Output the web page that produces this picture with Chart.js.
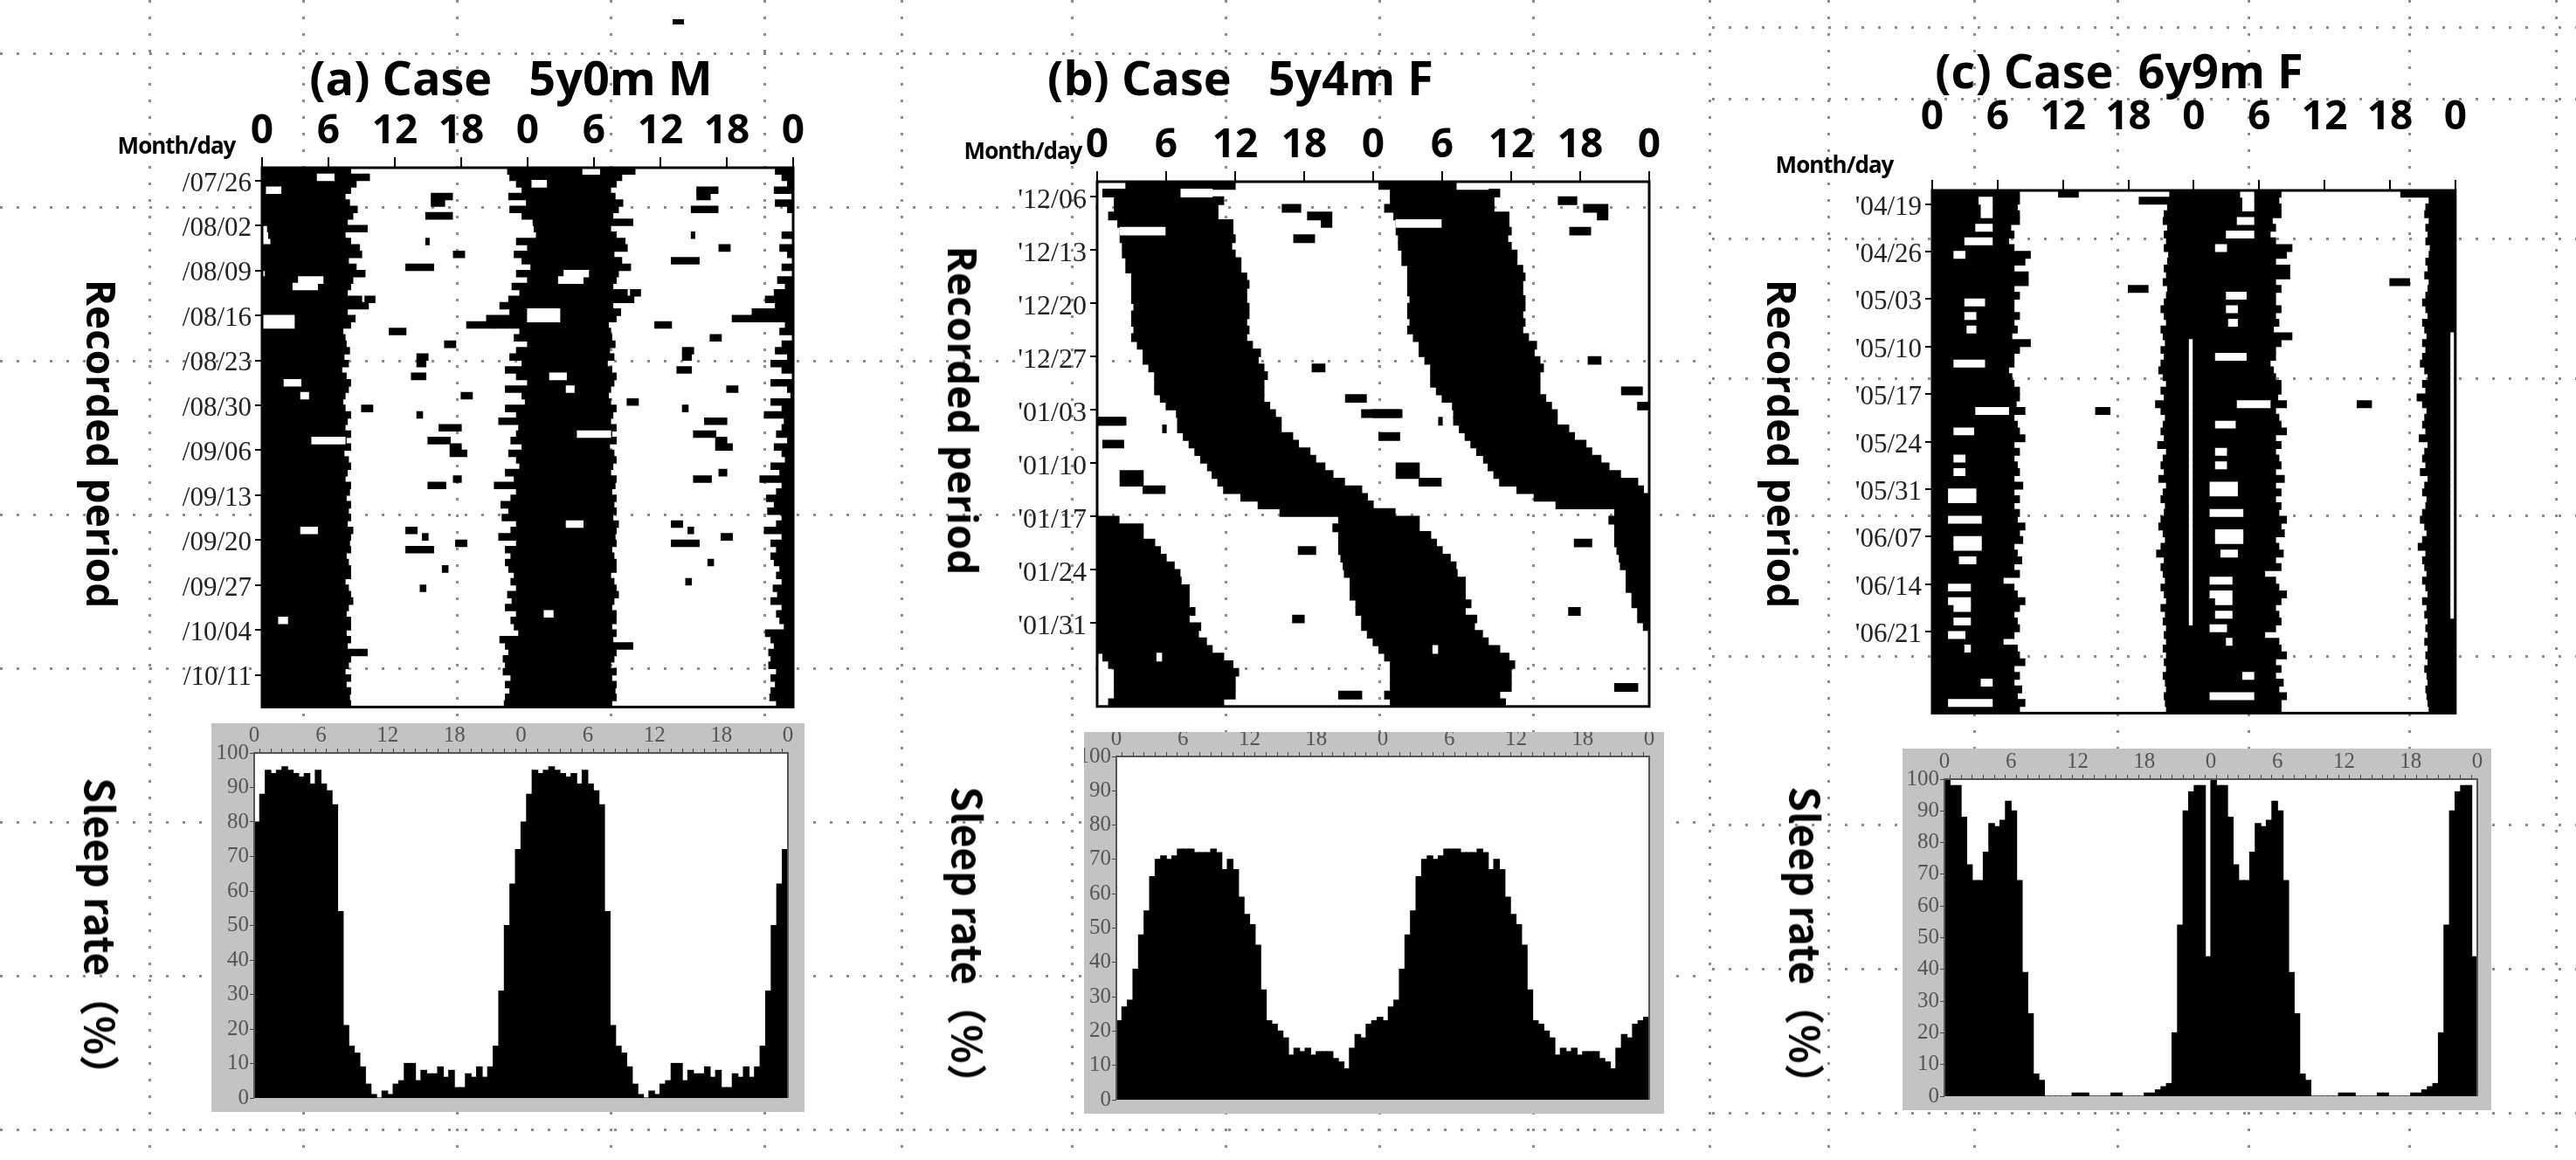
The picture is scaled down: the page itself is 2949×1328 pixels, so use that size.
<!DOCTYPE html>
<html><head><meta charset="utf-8">
<script src="https://cdn.jsdelivr.net/npm/chart.js@4"></script>
<style>
body{margin:0;width:2949px;height:1328px;background:#fff;position:relative;overflow:hidden;font-family:"Open Sans",sans-serif}
canvas{position:absolute}
.t{position:absolute;white-space:nowrap;transform:translate(-50%,-50%);font-weight:700;color:#000}
.rot{position:absolute;white-space:nowrap;transform:translate(-50%,-50%) rotate(90deg);font-weight:700;color:#000;font-size:46px}
</style></head><body>
<canvas id="bg" width="2949" height="1328" style="left:0;top:0"></canvas>
<div style="position:absolute;left:770px;top:22px;width:13px;height:6px;background:#000"></div>
<div class="t" style="left:585px;top:88px;font-size:54px">(a) Case&nbsp;&nbsp;&nbsp;5y0m M</div>
<div class="t" style="left:1420px;top:88px;font-size:54px">(b) Case&nbsp;&nbsp;&nbsp;5y4m F</div>
<div class="t" style="left:2426px;top:80px;font-size:54px">(c) Case&nbsp;&nbsp;6y9m F</div>
<div class="t" style="left:202px;top:166px;font-size:26px;letter-spacing:-1px">Month/day</div>
<div class="t" style="left:1171px;top:172px;font-size:26px;letter-spacing:-1px">Month/day</div>
<div class="t" style="left:2100px;top:188px;font-size:26px;letter-spacing:-1px">Month/day</div>
<div class="rot" style="left:117px;top:508px">Recorded period</div>
<div class="rot" style="left:1103px;top:470px">Recorded period</div>
<div class="rot" style="left:2041px;top:508px">Recorded period</div>
<div class="rot" style="left:117px;top:1072px;font-family:'Noto Sans CJK JP'">Sleep rate（%）</div>
<div class="rot" style="left:1110px;top:1082px;font-family:'Noto Sans CJK JP'">Sleep rate（%）</div>
<div class="rot" style="left:2069px;top:1082px;font-family:'Noto Sans CJK JP'">Sleep rate（%）</div>
<canvas id="ra"></canvas><canvas id="rb"></canvas><canvas id="rc"></canvas>
<canvas id="ha"></canvas><canvas id="hb"></canvas><canvas id="hc"></canvas>
<script>
// ---------- DATA ----------
const hourTicks = ['0','6','12','18','0','6','12','18','0'];
// (a) 84 rows, dates labelled at rows
const rowsA = 84;
const dateLabelsA = ['/07/26','/08/02','/08/09','/08/16','/08/23','/08/30','/09/06','/09/13','/09/20','/09/27','/10/04','/10/11'];
const dateRowsA = [2,9,16,23,30,37,44,51,58,65,72,79];
// sleep onset (clock h, evening of day) and wake (clock h, next morning), days -1..84
const onsetA = [22.5,22.2,22.4,23.0,23.5,22.3,23.9,22.4,23.5,24.5,
24.6,24.8,23.0,24.0,22.8,23.5,24.3,23.0,24.0,22.6,
23.3,22.3,21.5,22.4,20.3,21.0,23.3,22.8,24.0,23.0,
22.4,23.5,22.0,23.0,24.0,22.0,23.5,23.8,22.0,23.0,
21.4,23.2,23.0,22.5,23.5,22.3,23.0,23.3,22.0,22.8,
21.0,23.0,22.5,21.6,22.3,21.7,23.0,22.5,21.4,23.0,
22.0,22.5,22.0,22.3,22.8,22.5,23.0,22.2,22.6,22.0,
23.0,22.5,22.8,23.2,21.5,22.0,22.3,21.8,22.0,21.8,
22.5,22.0,22.4,22.0,21.9,22.5];
const wakeA = [8.0,9.7,8.5,8.0,7.5,7.9,8.6,8.2,7.7,9.5,
7.5,8.0,8.8,9.0,7.8,8.5,9.3,8.2,8.0,7.7,
9.0,9.6,7.7,8.4,8.0,7.3,7.5,7.6,7.9,7.4,
7.8,7.2,7.6,8.0,7.8,7.5,7.3,7.5,8.0,7.7,
7.5,8.0,7.6,8.0,7.4,7.8,8.0,7.7,7.5,8.0,
7.9,7.6,8.0,7.8,8.0,7.7,8.2,8.0,7.9,8.0,
7.6,7.8,8.0,8.0,7.5,7.8,8.0,8.2,7.8,7.6,
8.0,8.0,7.6,8.0,7.7,9.5,8.0,7.8,7.5,8.0,
7.6,8.0,7.9,8.0,7.6,8.0];
const napsA = [[4,15.3,17.2],[5,15.3,16.5],[7,14.8,17.2],[11,14.8,15.1],[13,17.3,18.3],[15,13.0,15.5],[20,9.3,10.2],[24,18.5,21.0],[25,11.5,13.0],[27,16.5,17.5],[29,14.0,15.0],[30,14.0,14.8],[32,13.5,14.8],[35,18.0,19.0],[37,9.0,10.0],[38,14.0,14.5],[40,16.0,18.0],[42,15.0,17.0],[43,17.0,18.0],[44,17.0,18.5],[48,17.3,18.0],[49,15.0,16.6],[56,13.0,14.0],[57,14.5,15.0],[58,17.5,18.5],[59,13.0,15.5],[62,16.3,16.8],[65,14.3,14.8]];
const gapsA = [[1,5.0,6.5],[3,0.4,1.7],[17,3.3,5.5],[18,2.8,5.0],[23,0,2.9],[24,0,2.9],[33,2.0,3.5],[35,3.5,4.2],[42,4.5,7.5],[56,3.5,5.0],[70,1.5,2.3]];
const rateA = [80,88,95,94,95,96,95,94,93,94,91,95,91,89,85,54,21,15,13,9,4,1,0,2,1,4,5,10,10,5,8,7,7,9,6,8,3,3,7,6,9,6,9,15,31,50,62,72];

// (b) 69 rows
const rowsB = 69;
const dateLabelsB = ["'12/06","'12/13","'12/20","'12/27","'01/03","'01/10","'01/17","'01/24","'01/31"];
const dateRowsB = [2,9,16,23,30,37,44,51,58];
// onset clock (h) and duration (h), days -1..69
const onsetB = [2.0,2.5,0.5,1.5,1.5,1.0,1.8,2.0,2.0,2.2,
2.2,2.5,2.5,3.0,3.0,3.0,3.0,3.2,3.0,3.0,
3.2,3.0,3.5,4.0,4.0,4.5,5.0,5.0,5.0,5.5,
6.0,6.9,7.0,7.0,7.5,8.0,8.5,9.0,9.6,10.0,
10.5,11.0,12.5,14.0,15.9,21.0,20.5,21.0,21.0,21.0,
21.2,21.4,21.5,22.0,22.0,22.0,22.5,22.5,23.0,23.0,
23.5,24.0,24.5,25.0,25.5,25.5,25.5,25.5,25.0,25.5,
26.0];
const durB = [9.5,9.5,9.0,9.5,9.0,9.5,10.0,9.8,10.0,9.5,
9.8,10.0,10.0,10.0,10.2,10.0,10.0,10.0,10.2,10.0,
10.0,10.0,10.0,10.2,10.0,10.0,9.8,9.5,9.5,9.0,
9.0,8.6,9.0,9.0,9.5,9.5,10.0,10.0,10.2,10.5,
11.0,12.0,11.0,10.0,10.0,7.0,7.5,8.0,8.5,9.0,
9.5,9.8,9.8,10.0,10.0,10.0,10.0,9.5,10.0,9.8,
10.0,10.0,10.5,10.8,10.8,10.5,10.5,10.5,10.0,10.0,
10.0];
const napsB = [[3,16.1,17.7],[4,18.3,20.4],[5,19.5,20.4],[7,17.1,18.9],[24,18.7,19.8],[28,21.6,23.4],[30,23.0,26.5],[31,0,2.3],[32,5.7,6.0],[34,0.5,2.3],[38,2.0,4.0],[39,2.0,4.0],[40,4.0,5.9],[48,17.5,19.0],[57,17.0,18.0],[67,21.0,23.0]];
const gapsB = [[1,7.3,10.0],[6,2.0,5.9],[62,5.2,5.6]];
const rateB = [23,27,29,38,48,55,65,70,71,70,71,73,73,73,72,72,72,73,72,67,70,67,59,54,51,45,32,23,22,20,18,13,15,14,15,13,14,14,14,12,11,9,15,19,18,22,23,24];

// (c) 77 rows
const rowsC = 77;
const dateLabelsC = ["'04/19","'04/26","'05/03","'05/10","'05/17","'05/24","'05/31","'06/07","'06/14","'06/21"];
const dateRowsC = [2,9,16,23,30,37,44,51,58,65];
const onsetC = [21.5,21.8,19.0,21.6,21.3,21.2,21.6,21.3,21.5,21.3,
21.7,21.6,21.3,21.5,21.2,21.6,21.5,21.3,21.0,21.3,
21.5,21.0,21.2,21.4,21.0,21.3,21.0,20.8,21.2,21.5,
21.0,21.3,20.5,21.0,21.4,21.2,21.0,21.3,20.7,21.5,
21.2,21.0,21.3,20.8,21.5,21.2,21.0,21.4,21.3,21.0,
20.8,21.2,21.4,21.0,20.6,21.3,21.0,21.2,21.4,21.0,
21.3,21.5,21.0,21.4,21.2,21.5,21.3,21.5,21.2,21.5,
21.3,21.5,21.2,21.4,21.5,21.3,21.4,21.5,21.6];
const wakeC = [8.0,8.0,7.8,8.0,8.0,7.2,7.5,7.0,7.5,9.0,
8.5,7.5,8.8,8.8,7.5,8.0,7.5,7.5,8.0,7.5,
7.8,7.3,9.0,8.0,7.5,7.5,7.0,7.3,7.5,8.0,
8.0,7.7,8.5,7.5,7.8,8.0,8.5,7.5,8.0,7.5,
7.8,8.0,7.5,8.3,7.5,8.0,7.5,8.0,7.8,8.5,
8.0,8.3,7.5,7.8,8.2,7.5,8.0,6.5,7.5,7.8,
8.5,8.0,7.5,7.8,8.0,7.5,6.5,7.8,8.0,8.5,
7.5,8.0,7.5,8.2,7.8,8.5,8.0,8.0,8.0];
const napsC = [[0,11.6,13.4],[14,18.0,19.8],[32,15.0,16.3]];
const gapsC = [[1,4.3,5.5],[2,4.5,5.5],[3,4.5,5.5],[5,4.0,5.5],[7,3.0,5.5],[9,2.0,3.0],[16,3.0,4.8],[18,3.0,4.0],[20,3.2,4.0],[25,2.0,4.8],[32,4.0,7.0],[35,2.0,3.8],[39,2.0,3.0],[41,2.0,3.0],[44,1.5,4.0],[45,1.5,4.0],[48,1.5,4.5],[51,2.0,4.5],[52,2.0,4.5],[54,2.5,4.0],[58,1.5,3.5],[60,1.5,3.5],[61,2.0,3.5],[63,2.0,3.5],[65,1.5,3.0],[67,3.0,3.5],[72,4.5,5.5],[75,1.5,5.5]];
const noRecordC = {fromDay:22, toDay:63, start:23.6, end:23.85};
const rateC = [100,98,98,88,73,68,68,77,86,85,87,93,90,68,39,26,7,5,0,0,0,0,0,1,1,1,0,0,0,0,1,1,0,0,0,0,1,1,2,3,4,20,54,90,96,98,98,44];

// ---------- background dotted grid ----------
(function(){
  const c=document.getElementById('bg').getContext('2d'); c.fillStyle='#8a8a8a';
  function h(y,x0,x1){for(let x=x0;x<x1;x+=19)c.fillRect(x,y,3,3);}
  function v(x,y0,y1){for(let y=y0;y<y1;y+=19)c.fillRect(x,y,3,3);}
  [60,236,412,588,764,940,1116,1292].forEach(y=>h(y,0,1950));
  [170,346,522,698,874,1226,1402,1578,1754].forEach(x=>v(x,0,1328));
  v(1031,0,1328); v(1956,0,1328);
  [30,112,272,432,589,750,943,1108,1273].forEach(y=>h(y,1960,2949));
  [2092,2259,2423,2573,2757,2925].forEach(x=>v(x,0,1328));
})();

// ---------- helpers ----------
function place(id,l,t,w,hh){const c=document.getElementById(id);c.width=w;c.height=hh;c.style.left=l+'px';c.style.top=t+'px';return c;}
function episodesFromWake(on,wk){return on.map((o,i)=>{const d=i-1;return [24*d+o,24*(d+1)+wk[i]];});}
function episodesFromDur(on,du){return on.map((o,i)=>{const d=i-1;return [24*d+o,24*d+o+du[i]];});}
function clip(list,n){const rows=[];for(let r=0;r<n;r++){const lo=24*r,hi=lo+48,s=[];
  list.forEach(([a,b])=>{if(b>lo&&a<hi)s.push([Math.max(a,lo)-lo,Math.min(b,hi)-lo]);});rows.push(s);}return rows;}
function toDatasets(rows,color,order){const k=Math.max(1,...rows.map(r=>r.length));const out=[];
  for(let j=0;j<k;j++)out.push({data:rows.map(r=>r[j]||null),backgroundColor:color,borderWidth:0,grouped:false,order:order,barPercentage:1,categoryPercentage:1,inflateAmount:0.6});return out;}
const frame={id:'frame',afterDraw(ch){const a=ch.chartArea,c=ch.ctx;c.save();c.strokeStyle='#000';c.lineWidth=3;c.strokeRect(a.left,a.top,a.right-a.left,a.bottom-a.top);c.restore();}};

function raster(id,box,yw,xh,pad,n,episodes,naps,gaps,labels,labelRows,dfs){
  place(id,box[0]-yw,box[1]-xh,yw+box[2]+30,xh+box[3]+4);
  const tickMap={};labelRows.forEach((r,i)=>tickMap[r]=labels[i]);
  const sleepRows=clip(episodes,n);
  const napRows=clip(naps.map(([d,a,b])=>[24*d+a,24*d+b]),n);
  const gapRows=clip(gaps.map(([d,a,b])=>[24*d+a,24*d+b]),n);
  const ds=[...toDatasets(gapRows,'#ffffff',0),...toDatasets(sleepRows,'#000000',1),...toDatasets(napRows,'#000000',1)];
  new Chart(document.getElementById(id),{type:'bar',
    data:{labels:Array.from({length:n},(_,i)=>String(i)),datasets:ds},
    options:{indexAxis:'y',responsive:false,animation:false,devicePixelRatio:1,
      layout:{padding:{right:30,bottom:4}},
      plugins:{legend:{display:false},tooltip:{enabled:false}},
      scales:{
        x:{type:'linear',position:'top',min:0,max:48,
           ticks:{stepSize:6,autoSkip:false,maxRotation:0,padding:pad,color:'#000',font:{family:'Open Sans',size:46,weight:'bold'},callback:(v)=>hourTicks[v/6]},
           grid:{drawOnChartArea:false,tickLength:12,color:'#000',lineWidth:2},border:{display:false},
           afterFit:s=>{s.height=xh;}},
        y:{type:'category',
           ticks:{autoSkip:false,padding:4,color:'#222',font:{family:'Liberation Serif',size:dfs},callback:(v,i)=>tickMap[i]||''},
           grid:{drawOnChartArea:false,tickLength:8,lineWidth:2,color:(c)=>tickMap[c.index]?'#000':'rgba(0,0,0,0)'},border:{display:false},
           afterFit:s=>{s.width=yw;}}
      }},plugins:[frame]});
}
const grayBox={id:'gray',beforeDraw(ch){const c=ch.ctx,a=ch.chartArea;c.save();c.fillStyle='#c3c3c3';c.fillRect(0,0,ch.width,ch.height);c.fillStyle='#fff';c.fillRect(a.left,a.top,a.right-a.left,a.bottom-a.top);c.restore();},
  afterDraw(ch){const c=ch.ctx,a=ch.chartArea;c.save();c.strokeStyle='#555';c.lineWidth=2;c.beginPath();c.moveTo(a.left,a.bottom);c.lineTo(a.left,a.top);c.lineTo(a.right,a.top);c.lineTo(a.right,a.bottom);c.stroke();c.restore();}};
function hist(id,gb,yw,xh,pr,pb,rate){
  place(id,gb[0],gb[1],gb[2],gb[3]);
  const pts=[];for(let k=0;k<2;k++)rate.forEach((v,i)=>pts.push({x:24*k+i*0.5+0.25,y:v}));
  const tf={family:'Liberation Sans Narrow',size:25};
  new Chart(document.getElementById(id),{type:'bar',
    data:{datasets:[{data:pts,backgroundColor:'#000',borderWidth:0,barPercentage:1,categoryPercentage:1,inflateAmount:0.6}]},
    options:{responsive:false,animation:false,devicePixelRatio:1,layout:{padding:{right:pr,bottom:pb}},
      plugins:{legend:{display:false},tooltip:{enabled:false}},
      scales:{
        x:{type:'linear',position:'top',min:0,max:48,offset:false,
           ticks:{stepSize:1,autoSkip:false,maxRotation:0,padding:0,color:'#555',font:tf,callback:v=>v%6===0?hourTicks[v/6]:''},
           grid:{drawOnChartArea:false,tickLength:5,color:'#444'},border:{display:false},afterFit:s=>{s.height=xh;}},
        y:{min:0,max:100,ticks:{stepSize:10,padding:1,color:'#555',font:tf},
           grid:{drawOnChartArea:false,tickLength:5,color:'#444'},border:{display:false},afterFit:s=>{s.width=yw;}}
      }},plugins:[grayBox]});
}

raster('ra',[300,192,608,636],170,80,2,rowsA,episodesFromWake(onsetA,wakeA),napsA,gapsA,dateLabelsA,dateRowsA,31);
raster('rb',[1256,208,632,620],110,80,2,rowsB,episodesFromDur(onsetB,durB),napsB,gapsB,dateLabelsB,dateRowsB,32);
const noRecGaps=[];for(let d=noRecordC.fromDay;d<=noRecordC.toDay;d++)noRecGaps.push([d,noRecordC.start,noRecordC.end]);
raster('rc',[2212,218,626,617],170,126,44,rowsC,episodesFromWake(onsetC,wakeC),napsC,gapsC.concat(noRecGaps),dateLabelsC,dateRowsC,31);

hist('ha',[242,828,679,445],49,34,19,8,rateA);
hist('hb',[1241,838,664,437],37,28,17,13,rateB);
hist('hc',[2178,857,674,414],48,35,16,8,rateC);
</script></body></html>
